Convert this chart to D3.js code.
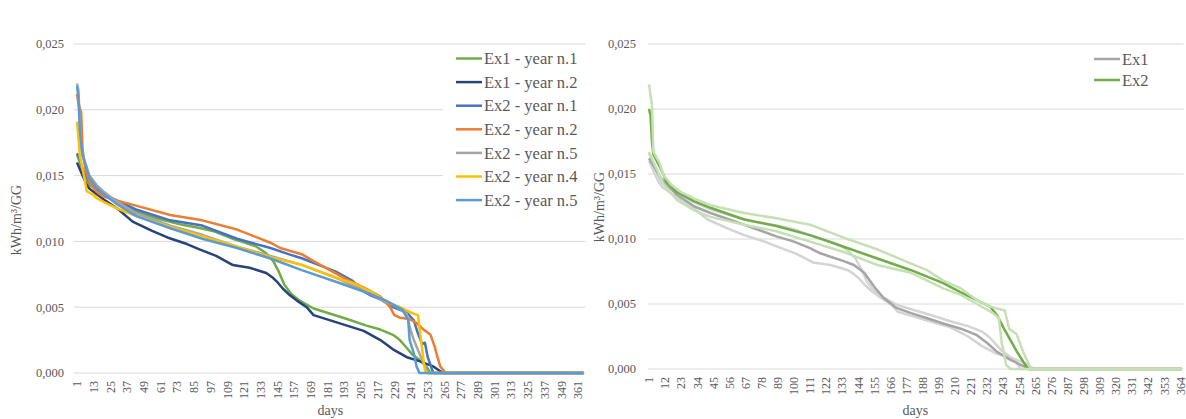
<!DOCTYPE html>
<html lang="en">
<head>
<meta charset="UTF-8">
<title>Duration curves kWh/m3/GG</title>
<style>
  body { margin: 0; background: #fff; }
</style>
</head>
<body>
<div id="chart"></div>
<script src="https://d3js.org/d3.v7.min.js"></script>
<script>
// y ticks shared by both panels
const yTicks = [0, 0.005, 0.010, 0.015, 0.020, 0.025];
const leftDayTicks = [1, 13, 25, 37, 49, 61, 73, 85, 97, 109, 121, 133, 145, 157, 169, 181, 193, 205, 217, 229, 241, 253, 265, 277, 289, 301, 313, 325, 337, 349, 361];
const rightDayTicks = [1, 12, 23, 34, 45, 56, 67, 78, 89, 100, 111, 122, 133, 144, 155, 166, 177, 188, 199, 210, 221, 232, 243, 254, 265, 276, 287, 298, 309, 320, 331, 342, 353, 364];

// [day, kWh/m3/GG]
const ex1Year1 = [[1,0.0166],[3,0.0160],[6,0.0152],[10,0.0143],[15,0.0139],[20,0.0136],[30,0.0129],[45,0.0122],[60,0.0117],[75,0.0113],[90,0.0110],[100,0.01075],[113,0.0102],[122,0.0099],[130,0.0096],[137,0.0091],[142,0.0085],[146,0.0077],[150,0.0067],[155,0.0060],[161,0.0055],[166,0.0052],[171,0.0049],[183,0.0045],[195,0.0041],[209,0.0036],[219,0.0033],[228,0.0029],[233,0.0025],[238,0.0019],[242,0.0014],[247,0.0010],[252,0.0005],[255,0],[365,0]];
const ex1Year2 = [[1,0.0160],[3,0.0155],[5,0.0150],[8,0.0143],[10,0.0140],[15,0.0136],[20,0.0132],[30,0.0125],[41,0.0115],[55,0.0108],[66,0.0103],[80,0.0098],[89,0.0094],[101,0.0089],[113,0.0082],[125,0.0080],[137,0.0076],[141,0.0073],[145,0.0069],[149,0.0064],[154,0.0059],[159,0.0055],[166,0.0050],[171,0.0044],[183,0.0040],[195,0.0036],[207,0.0032],[219,0.0025],[228,0.0018],[238,0.0012],[247,0.0009],[257,0.0005],[264,0],[365,0]];
const ex2Year1 = [[1,0.0167],[3,0.0163],[5,0.0155],[10,0.0145],[15,0.0140],[20,0.0136],[30,0.0131],[44,0.0124],[68,0.0116],[91,0.0112],[116,0.0102],[140,0.0095],[154,0.0090],[163,0.0087],[175,0.0082],[187,0.0077],[199,0.0070],[203,0.0066],[207,0.0062],[212,0.0059],[219,0.0056],[228,0.0050],[238,0.0046],[243,0.0040],[246,0.0030],[249,0.0022],[251,0.0023],[253,0.0012],[257,0],[365,0]];
const ex2Year2 = [[1,0.0212],[2,0.0205],[4,0.0198],[5,0.0170],[7,0.0155],[10,0.0145],[15,0.0138],[20,0.0134],[30,0.0131],[44,0.0127],[68,0.0120],[91,0.0116],[116,0.0109],[140,0.0099],[147,0.0095],[163,0.0090],[171,0.0085],[195,0.0071],[209,0.0064],[219,0.0058],[226,0.0050],[229,0.0044],[233,0.0042],[240,0.0041],[245,0.0038],[250,0.0033],[255,0.0029],[258,0.0020],[260,0.0012],[262,0.0005],[266,0],[365,0]];
const ex2Year5a = [[1,0.0220],[2,0.0215],[4,0.0170],[6,0.0163],[10,0.0150],[15,0.0143],[20,0.0138],[30,0.0130],[44,0.0121],[68,0.0112],[91,0.0105],[116,0.0096],[140,0.0089],[163,0.0082],[188,0.0072],[212,0.0060],[231,0.0050],[238,0.0045],[240,0.0035],[243,0.0025],[247,0.0015],[251,0.0005],[253,0],[365,0]];
const ex2Year4 = [[1,0.0191],[2,0.0180],[3,0.0165],[6,0.0150],[8,0.0138],[12,0.0136],[15,0.0133],[20,0.0130],[30,0.0125],[44,0.0119],[68,0.0111],[91,0.0104],[116,0.0096],[140,0.0088],[163,0.0082],[188,0.0072],[200,0.0068],[212,0.0062],[224,0.0054],[235,0.0049],[243,0.0045],[246,0.0044],[247,0.0035],[249,0.0018],[251,0.0002],[253,0],[365,0]];
const ex2Year5b = [[1,0.0218],[2,0.0210],[3,0.0185],[5,0.0165],[8,0.0155],[10,0.0148],[15,0.0141],[20,0.0136],[30,0.0128],[44,0.0119],[68,0.0110],[91,0.0102],[116,0.0095],[140,0.0087],[163,0.0078],[188,0.0069],[212,0.0060],[223,0.0055],[235,0.0048],[239,0.0040],[240,0.0025],[243,0.0015],[245,0.0005],[247,0],[365,0]];

// right panel: averages and Ex2 envelope
const ex1Mean = [[1,0.0162],[9,0.0147],[20,0.0134],[32,0.0125],[43,0.0120],[66,0.0111],[88,0.0102],[100,0.0098],[111,0.0093],[118,0.0089],[126,0.0086],[134,0.0083],[141,0.0080],[148,0.0074],[155,0.0063],[161,0.0055],[170,0.0047],[180,0.0043],[191,0.0039],[202,0.0035],[214,0.0031],[225,0.0026],[232,0.0020],[239,0.0013],[248,0.0007],[259,0.0001],[261,0],[365,0]];
const ex2Mean = [[1,0.0200],[2,0.0195],[3,0.0175],[4,0.0165],[9,0.0154],[13,0.0144],[20,0.0136],[32,0.0129],[43,0.0124],[66,0.0115],[88,0.0110],[111,0.0103],[134,0.0094],[157,0.0085],[180,0.0076],[202,0.0066],[214,0.0059],[225,0.0053],[234,0.0048],[239,0.0041],[243,0.0032],[248,0.0022],[252,0.0014],[257,0.0005],[260,0],[365,0]];
const ex2Max = [[1,0.0219],[3,0.0203],[4,0.0167],[8,0.0159],[11,0.0149],[16,0.0142],[23,0.0136],[32,0.0131],[43,0.0126],[66,0.0120],[88,0.0116],[111,0.0111],[134,0.0101],[157,0.0092],[180,0.0081],[191,0.0076],[202,0.0068],[214,0.0062],[225,0.0053],[234,0.0048],[244,0.0045],[247,0.0031],[252,0.0027],[257,0.0012],[262,0],[365,0]];
const ex2Min = [[1,0.0167],[7,0.0152],[11,0.0142],[20,0.0130],[32,0.0122],[43,0.0117],[66,0.0111],[88,0.0106],[111,0.0098],[134,0.0090],[157,0.0080],[180,0.0074],[202,0.0062],[214,0.0057],[225,0.0050],[236,0.0043],[240,0.0039],[242,0.0020],[245,0.0003],[248,0],[365,0]];

const width = 1186;
const height = 419;
const serif = "'Liberation Serif', Tinos, 'Times New Roman', 'DejaVu Serif', serif";

const svg = d3.select("#chart").append("svg")
    .attr("width", width)
    .attr("height", height)
    .attr("font-family", serif);

svg.append("rect").attr("width", width).attr("height", height).attr("fill", "#fff");

const fmt = d3.formatLocale({ decimal: ",", thousands: ".", grouping: [3], currency: ["", ""] }).format(".3f");

function drawPanel(p) {
    const x = d3.scaleLinear().domain([0.5, 365.5]).range([p.x0, p.x1]);
    const y = d3.scaleLinear().domain([0, 0.025]).range([p.yBottom, p.yTop]);
    const g = svg.append("g");

    // gridlines
    g.selectAll(".grid").data(yTicks).join("line")
        .attr("x1", p.gridX0).attr("x2", p.x1 + 1)
        .attr("y1", d => y(d)).attr("y2", d => y(d))
        .attr("stroke", "#d9d9d9").attr("stroke-width", 1);

    // y tick labels
    g.selectAll(".ylab").data(yTicks).join("text")
        .attr("x", p.yLabelX).attr("y", d => y(d))
        .attr("dy", "0.35em")
        .attr("text-anchor", "end")
        .attr("fill", "#595959")
        .attr("font-family", serif)
        .attr("font-size", 12.5)
        .text(d => fmt(d));

    // x tick labels, rotated
    g.selectAll(".xlab").data(p.ticks).join("text")
        .attr("transform", d => `translate(${x(d)},${p.yBottom + 8}) rotate(-90)`)
        .attr("dy", "0.35em")
        .attr("text-anchor", "end")
        .attr("fill", "#595959")
        .attr("font-family", serif)
        .attr("font-size", 12)
        .text(d => d);

    // axis titles
    g.append("text")
        .attr("x", (p.x0 + p.x1) / 2).attr("y", 415)
        .attr("text-anchor", "middle")
        .attr("fill", "#595959")
        .attr("font-family", serif)
        .attr("font-size", 14)
        .text("days");
    g.append("text")
        .attr("transform", `translate(${p.titleX},${p.titleY}) rotate(-90)`)
        .attr("text-anchor", "middle")
        .attr("fill", "#595959")
        .attr("font-family", serif)
        .attr("font-size", 14)
        .text("kWh/m³/GG");

    const line = d3.line().x(d => x(d[0])).y(d => y(d[1]));

    // legend box sits over the plot
    g.append("rect")
        .attr("x", p.legend.x).attr("y", p.legend.y)
        .attr("width", p.legend.w).attr("height", p.legend.h)
        .attr("fill", "#fff");

    g.selectAll(".series").data(p.series).join("path")
        .attr("d", d => line(d.values))
        .attr("fill", "none")
        .attr("stroke", d => d.color)
        .attr("stroke-width", 2.5)
        .attr("stroke-linejoin", "round");

    // legend entries
    const items = p.series.filter(s => s.name);
    const leg = g.selectAll(".leg").data(items).join("g")
        .attr("transform", (d, i) => `translate(${p.legend.lx},${p.legend.ly + i * p.legend.step})`);
    leg.append("line")
        .attr("x1", 0).attr("x2", 26)
        .attr("stroke", d => d.color).attr("stroke-width", 2.5);
    leg.append("text")
        .attr("x", 28).attr("dy", "0.35em")
        .attr("fill", "#595959")
        .attr("font-family", serif)
        .attr("font-size", 16.5)
        .text(d => d.name);
}

drawPanel({
    x0: 76.3, x1: 584.3, gridX0: 74, yTop: 44, yBottom: 373,
    yLabelX: 64, titleX: 21, titleY: 220,
    ticks: leftDayTicks,
    legend: { x: 443, y: 47, w: 147, h: 166, lx: 456, ly: 58.5, step: 23.6 },
    series: [
        { name: "Ex1 - year n.1", color: "#70ad47", values: ex1Year1 },
        { name: "Ex1 - year n.2", color: "#264478", values: ex1Year2 },
        { name: "Ex2 - year n.1", color: "#4472c4", values: ex2Year1 },
        { name: "Ex2 - year n.2", color: "#ed7d31", values: ex2Year2 },
        { name: "Ex2 - year n.5", color: "#a5a5a5", values: ex2Year5a },
        { name: "Ex2 - year n.4", color: "#ffc000", values: ex2Year4 },
        { name: "Ex2 - year n.5", color: "#5b9bd5", values: ex2Year5b }
    ]
});

drawPanel({
    x0: 648.3, x1: 1182.6, gridX0: 648, yTop: 44, yBottom: 369,
    yLabelX: 636, titleX: 604, titleY: 207,
    ticks: rightDayTicks,
    legend: { x: 1088, y: 48, w: 75, h: 44, lx: 1094, ly: 59, step: 21 },
    series: [
        { name: null, color: "#d4d4d4", values: ex1Year1 },
        { name: null, color: "#d4d4d4", values: ex1Year2 },
        { name: "Ex1", color: "#a5a5a5", values: ex1Mean },
        { name: "Ex2", color: "#70ad47", values: ex2Mean },
        { name: null, color: "#c5e0b4", values: ex2Max },
        { name: null, color: "#c5e0b4", values: ex2Min }
    ]
});
</script>
</body>
</html>
